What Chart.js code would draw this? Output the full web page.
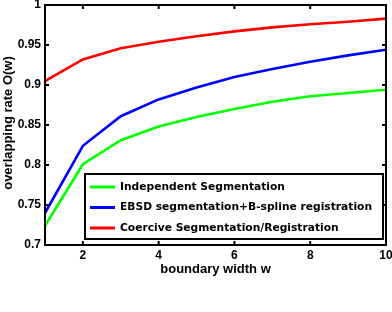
<!DOCTYPE html>
<html>
<head>
<meta charset="utf-8">
<script src="https://cdn.jsdelivr.net/npm/chart.js@4"></script>
<style>
  html, body { margin: 0; padding: 0; background: #fff; }
  #wrap { width: 392px; height: 312px; }
</style>
</head>
<body>
<div id="wrap"><canvas id="chart" width="392" height="312"></canvas></div>
<script>
const widths = [1, 2, 3, 4, 5, 6, 7, 8, 9, 10];
const independent = [0.724, 0.801, 0.831, 0.848, 0.860, 0.870, 0.879, 0.886, 0.890, 0.894];
const ebsd = [0.740, 0.824, 0.861, 0.882, 0.897, 0.910, 0.920, 0.929, 0.937, 0.944];
const coercive = [0.905, 0.932, 0.946, 0.954, 0.961, 0.967, 0.972, 0.976, 0.979, 0.983];

const seriesNames = [
  "Independent Segmentation",
  "EBSD segmentation+B-spline registration",
  "Coercive Segmentation/Registration"
];
const seriesColors = ["#00ff00", "#0000ff", "#ff0000"];

const xTicks = [2, 4, 6, 8, 10];
const yTicks = [0.7, 0.75, 0.8, 0.85, 0.9, 0.95, 1];
const xTitle = "boundary width w";
const yTitle = "overlapping rate O(w)";

const FONT = "'Liberation Sans', Arial, sans-serif";

function points(vals) {
  return widths.map((w, i) => ({ x: w, y: vals[i] }));
}

// frame, inward ticks, labels and the boxed legend, drawn like the matlab figure
const framePlugin = {
  id: "frame",
  afterDatasetsDraw(chart) {
    const { ctx, chartArea: a, scales } = chart;
    ctx.save();
    ctx.strokeStyle = "#000";
    ctx.lineWidth = 2;
    ctx.strokeRect(a.left, a.top, a.right - a.left, a.bottom - a.top);

    ctx.beginPath();
    xTicks.forEach(v => {
      const px = scales.x.getPixelForValue(v);
      ctx.moveTo(px, a.bottom); ctx.lineTo(px, a.bottom - 4);
      ctx.moveTo(px, a.top); ctx.lineTo(px, a.top + 4);
    });
    yTicks.forEach(v => {
      const py = scales.y.getPixelForValue(v);
      ctx.moveTo(a.left, py); ctx.lineTo(a.left + 4, py);
      ctx.moveTo(a.right, py); ctx.lineTo(a.right - 4, py);
    });
    ctx.stroke();

    // tick labels
    ctx.fillStyle = "#000";
    ctx.font = "bold 12px " + FONT;
    ctx.textAlign = "center";
    ctx.textBaseline = "middle";
    xTicks.forEach(v => {
      ctx.fillText(String(v), scales.x.getPixelForValue(v), a.bottom + 11);
    });
    ctx.textAlign = "right";
    yTicks.forEach(v => {
      ctx.fillText(String(v), a.left - 4, scales.y.getPixelForValue(v));
    });

    // axis titles
    ctx.font = "bold 13px " + FONT;
    ctx.textAlign = "center";
    ctx.fillText(xTitle, (a.left + a.right) / 2, a.bottom + 24);
    ctx.save();
    ctx.translate(8, (a.top + a.bottom) / 2 - 2);
    ctx.rotate(-Math.PI / 2);
    ctx.fillText(yTitle, 0, 0);
    ctx.restore();

    // legend box
    const bx = 85, by = 174, bw = 298, bh = 65;
    ctx.fillStyle = "#fff";
    ctx.fillRect(bx, by, bw, bh);
    ctx.lineWidth = 2;
    ctx.strokeStyle = "#000";
    ctx.strokeRect(bx, by, bw, bh);
    ctx.font = "bold 10.7px 'DejaVu Sans', sans-serif";
    ctx.textAlign = "left";
    chart.data.datasets.forEach((ds, i) => {
      const ry = by + 13 + i * 20.5;
      ctx.strokeStyle = ds.borderColor;
      ctx.lineWidth = 3;
      ctx.beginPath();
      ctx.moveTo(bx + 5, ry); ctx.lineTo(bx + 30, ry);
      ctx.stroke();
      ctx.fillStyle = "#000";
      ctx.fillText(ds.label, bx + 35, ry);
    });
    ctx.restore();
  }
};

new Chart(document.getElementById("chart"), {
  type: "line",
  data: {
    datasets: [
      { label: seriesNames[0], data: points(independent), borderColor: seriesColors[0] },
      { label: seriesNames[1], data: points(ebsd), borderColor: seriesColors[1] },
      { label: seriesNames[2], data: points(coercive), borderColor: seriesColors[2] }
    ]
  },
  options: {
    responsive: false,
    animation: false,
    layout: { padding: { top: 5, right: 6, bottom: 37, left: 0 } },
    elements: {
      line: { borderWidth: 2.6, tension: 0 },
      point: { radius: 0 }
    },
    plugins: {
      legend: { display: false },
      tooltip: { enabled: false }
    },
    scales: {
      x: {
        type: "linear",
        min: 1,
        max: 10,
        grid: { display: false },
        border: { display: false },
        ticks: { display: false },
        afterFit: s => { s.height = 30; }
      },
      y: {
        min: 0.7,
        max: 1,
        grid: { display: false },
        border: { display: false },
        ticks: { display: false },
        afterFit: s => { s.width = 45; }
      }
    }
  },
  plugins: [framePlugin]
});
</script>
</body>
</html>
